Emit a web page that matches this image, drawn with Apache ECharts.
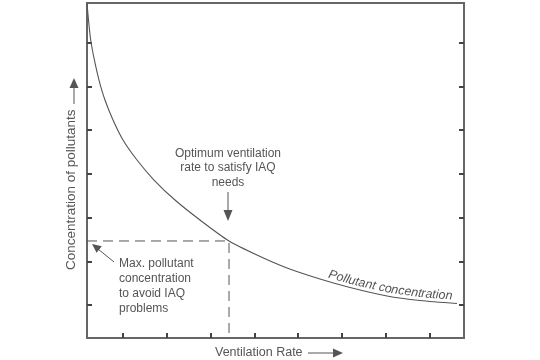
<!DOCTYPE html>
<html>
<head>
<meta charset="utf-8">
<script src="https://cdn.jsdelivr.net/npm/echarts@6/dist/echarts.min.js"></script>
<style>html,body{margin:0;padding:0;background:#fff}#c{width:540px;height:360px}</style>
</head>
<body>
<div id="c"></div>
<script>
// Ventilation rate (arbitrary units 0-100) vs pollutant concentration (0-100)
var curveX = [0, 0.40, 0.98, 1.96, 3.18, 4.77, 6.90, 9.55, 13.26, 17.77, 23.34, 29.97, 37.67, 45.36, 53.05, 61.80, 69.76, 79.58, 88.33, 98.14];
var curveY = [100, 94.93, 88.96, 82.99, 77.01, 71.04, 65.07, 59.10, 53.13, 47.16, 41.19, 35.22, 28.96, 24.63, 20.90, 17.61, 15.07, 12.54, 11.19, 10.30];
var optimumRate = 37.67;
var maxConcentration = 28.96;
var xTicks = [9.55, 21.2, 32.9, 44.6, 56.0, 67.6, 79.3, 91.0];
var yTicks = [9.85, 22.7, 35.8, 49.0, 62.1, 74.9, 88.1];
var curveLabel = 'Pollutant concentration';
var curveLabelStart = 63.66; // x value where the curve label begins

var curve = curveX.map(function (x, i) { return [x, curveY[i]]; });
var refLine = [[0, maxConcentration], [optimumRate, maxConcentration], [optimumRate, 0]];

var ink = '#555';
var font = '"Liberation Sans", Arial, Helvetica, sans-serif';
var chart = echarts.init(document.getElementById('c'), null, {renderer: 'canvas'});

function tickAxis(pos, ticks, max) {
  return {
    type: 'value', min: 0, max: max, position: pos,
    axisLine: {show: false},
    axisTick: {show: true, inside: true, length: 5, customValues: ticks, lineStyle: {color: '#444', width: 2}},
    axisLabel: {show: false},
    splitLine: {show: false}
  };
}

var graphics = [
  {type: 'text', left: 215, top: 346, style: {text: 'Ventilation Rate', font: '12.5px ' + font, fill: ink}},
  {type: 'line', shape: {x1: 308, y1: 353, x2: 334, y2: 353}, style: {stroke: ink, lineWidth: 1}},
  {type: 'polygon', shape: {points: [[333, 348.5], [333, 357.5], [343, 353]]}, style: {fill: ink}},
  {type: 'text', x: 78.5, y: 270, rotation: Math.PI / 2, style: {text: 'Concentration of pollutants', font: '13.5px ' + font, fill: ink, align: 'left', verticalAlign: 'bottom'}},
  {type: 'line', shape: {x1: 74, y1: 104, x2: 74, y2: 87}, style: {stroke: ink, lineWidth: 1}},
  {type: 'polygon', shape: {points: [[69.5, 88], [78.5, 88], [74, 78]]}, style: {fill: ink}},
  {type: 'text', x: 228, y: 146, style: {text: 'Optimum ventilation\nrate to satisfy IAQ\nneeds', font: '12px ' + font, fill: ink, align: 'center', lineHeight: 14.5}},
  {type: 'line', shape: {x1: 228, y1: 192, x2: 228, y2: 211}, style: {stroke: ink, lineWidth: 1}},
  {type: 'polygon', shape: {points: [[223.5, 210], [232.5, 210], [228, 221]]}, style: {fill: ink}},
  {type: 'text', x: 119, y: 256, style: {text: 'Max. pollutant\nconcentration\nto avoid IAQ\nproblems', font: '12px ' + font, fill: ink, align: 'left', lineHeight: 15}},
  {type: 'line', shape: {x1: 114, y1: 262, x2: 98, y2: 249}, style: {stroke: ink, lineWidth: 1}},
  {type: 'polygon', shape: {points: [[92, 244], [101.8, 246.3], [96.6, 252.8]]}, style: {fill: ink}}
];

var option = {
  animation: false,
  grid: {left: 87, top: 3, right: 76, bottom: 22, show: true, borderColor: '#666', borderWidth: 2},
  xAxis: [tickAxis('bottom', xTicks, 100)],
  yAxis: [tickAxis('left', yTicks, 100), tickAxis('right', yTicks, 100)],
  series: [
    {type: 'line', data: curve, smooth: 0.25, showSymbol: false, lineStyle: {color: ink, width: 1.1}},
    {type: 'line', data: refLine, showSymbol: false, lineStyle: {color: ink, width: 1, type: [10, 6]}}
  ],
  graphic: graphics
};
chart.setOption(option);

// place the curve label letter by letter along the curve (pixel path from the axes)
var pts = curve.map(function (p) { return chart.convertToPixel({gridIndex: 0}, p); });
function yAt(x) {
  for (var i = 0; i < pts.length - 1; i++) {
    if (x >= pts[i][0] && x <= pts[i + 1][0]) {
      var t = (x - pts[i][0]) / (pts[i + 1][0] - pts[i][0]);
      return pts[i][1] + t * (pts[i + 1][1] - pts[i][1]);
    }
  }
  return pts[pts.length - 1][1];
}
var labelFont = 'italic 12.5px ' + font;
var ctx = document.createElement('canvas').getContext('2d');
ctx.font = labelFont;
var cx = chart.convertToPixel({gridIndex: 0}, [curveLabelStart, 0])[0];
var letters = [];
for (var k = 0; k < curveLabel.length; k++) {
  var ch = curveLabel[k];
  var w = ctx.measureText(ch).width;
  var x1 = cx, x2 = cx + w;
  var ang = Math.atan2(yAt(x2) - yAt(x1), x2 - x1);
  letters.push({type: 'text', x: cx, y: yAt(cx) - 0.5, rotation: -ang,
    style: {text: ch, font: labelFont, fill: ink, verticalAlign: 'bottom', align: 'left'}});
  cx += w * Math.cos(ang);
}
chart.setOption({graphic: graphics.concat(letters)});
</script>
</body>
</html>
